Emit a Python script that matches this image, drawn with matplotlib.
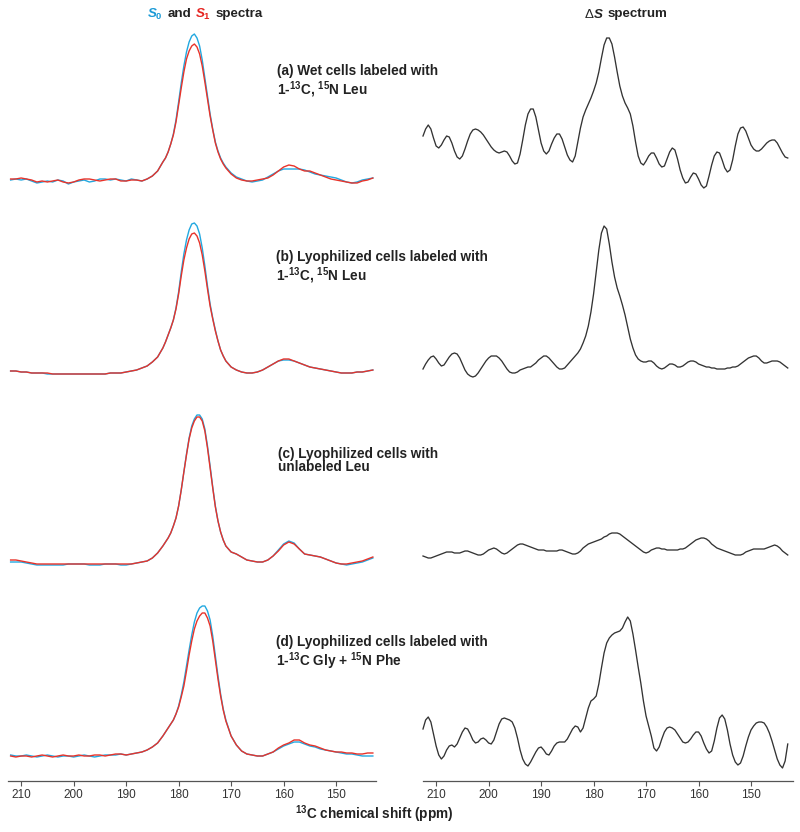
"""
13C spectra: S0 / S1 overlays and the difference spectrum, four samples
"""

import numpy as np
import matplotlib
matplotlib.use("Agg")
import matplotlib.pyplot as plt
from matplotlib.offsetbox import TextArea, HPacker, AnnotationBbox

plt.rcParams["font.family"] = ["Liberation Sans", "DejaVu Sans"]
plt.rcParams["mathtext.fontset"] = "custom"
plt.rcParams["mathtext.rm"] = "Liberation Sans:bold"
plt.rcParams["mathtext.it"] = "Liberation Sans:italic:bold"
plt.rcParams["mathtext.bf"] = "Liberation Sans:bold"

# ----------------------------------------------------
# Data (intensities, arbitrary units)
# ----------------------------------------------------

# S0 / S1 spectra: 1 ppm steps, 0.5 ppm steps across the main peak
ppm_left = np.concatenate([np.arange(212, 182.9, -1),
                           np.arange(182.5, 170.9, -0.5),
                           np.arange(170, 142.9, -1)])

a_s0 = [0, 1, 0, 1, -1, -3, -2, -1, -2, 0,
        -1, -4, -2, -1, 0, -2, -1, 1, 1, 0,
        1, 0, -1, 1, 0, -1, 1, 4, 9, 18,
        22, 28, 36, 46, 60, 78, 97, 114, 128, 138, 144, 146,
        142, 134, 120, 102, 84, 66, 51, 38, 29, 22, 17, 13,
        7, 3, 1, -1, -2, -1, 0, 3,
        6, 9, 11, 11, 11, 11, 10, 8, 6, 5,
        4, 3, 2, 0, -2, -3, -2, 0, 1, 2]
a_s1 = [1, 1, 2, 1, 0, -2, -1, -2, -1, 0,
        -2, -3, -2, 0, 1, 1, 0, -1, 0, 1,
        1, -1, -1, 0, 0, -1, 1, 4, 9, 18,
        22, 28, 36, 45, 58, 75, 92, 108, 121, 129, 134, 136,
        133, 126, 114, 98, 81, 64, 50, 37, 28, 21, 16, 12,
        6, 2, 0, -1, -1, 0, 1, 2,
        5, 9, 13, 15, 14, 11, 9, 9, 7, 5,
        3, 1, 0, -1, -2, -3, -3, -1, 0, 2]

b_s0 = [1, 1, 0, 0, -1, -1, -1, -2, -2, -2,
        -2, -2, -2, -2, -2, -2, -2, -2, -2, -1,
        -1, -1, 0, 1, 2, 4, 6, 10, 15, 24,
        30, 37, 44, 52, 64, 80, 100, 118, 132, 142, 148, 149,
        146, 138, 124, 106, 86, 68, 54, 42, 31, 22, 16, 11,
        5, 2, 0, -1, -1, 0, 2, 5,
        8, 11, 12, 12, 11, 9, 7, 5, 4, 3,
        2, 1, 0, -1, -1, -1, 0, 0, 1, 2]
b_s1 = [1, 1, 0, 0, -1, -1, -1, -1, -2, -2,
        -2, -2, -2, -2, -2, -2, -2, -2, -2, -1,
        -1, -1, 0, 1, 2, 4, 6, 10, 15, 24,
        30, 37, 44, 52, 63, 78, 96, 112, 124, 133, 138, 139,
        136, 129, 117, 101, 83, 66, 53, 41, 31, 22, 16, 11,
        5, 2, 0, -1, -1, 0, 2, 5,
        8, 11, 13, 13, 11, 9, 7, 5, 4, 3,
        2, 1, 0, -1, -1, -1, 0, 0, 1, 2]

c_s0 = [2, 2, 2, 1, 0, -1, -1, -1, -1, -1,
        -1, 0, 0, 0, 0, -1, -1, -1, 0, 0,
        0, -1, -1, 0, 1, 2, 3, 6, 11, 18,
        22, 26, 31, 38, 46, 58, 74, 92, 110, 126, 138, 145,
        149, 149, 145, 135, 118, 98, 77, 58, 43, 32, 24, 18,
        12, 10, 7, 4, 3, 2, 2, 4,
        8, 14, 20, 23, 21, 15, 10, 9, 8, 7,
        5, 3, 1, 0, -1, 0, 1, 2, 4, 6]
c_s1 = [4, 4, 3, 2, 1, 0, 0, 0, 0, 0,
        0, 0, 0, 0, 0, 0, 0, 0, 0, 0,
        0, 0, 0, 0, 1, 2, 3, 6, 11, 18,
        22, 26, 31, 38, 46, 58, 74, 92, 109, 125, 136, 143,
        147, 147, 143, 133, 116, 96, 76, 57, 43, 32, 24, 18,
        12, 10, 7, 4, 3, 2, 2, 4,
        8, 13, 19, 22, 20, 15, 10, 9, 8, 7,
        5, 3, 1, 0, 0, 1, 2, 3, 5, 7]

d_s0 = [1, 0, 0, 1, 0, -1, 0, 1, 0, -1,
        0, 0, -1, 0, 1, 0, -1, 0, 1, 1,
        1, 2, 1, 2, 3, 4, 6, 9, 13, 20,
        24, 28, 32, 36, 42, 50, 61, 74, 90, 106, 121, 134,
        143, 148, 150, 150, 145, 136, 120, 100, 80, 62, 47, 36,
        20, 11, 5, 2, 1, 0, 0, 2,
        4, 7, 10, 12, 14, 14, 12, 10, 9, 7,
        6, 5, 4, 3, 2, 2, 1, 0, 0, 0]
d_s1 = [0, -1, 0, 0, -1, 0, 1, 0, -1, 0,
        1, 0, 0, 1, 0, 0, 1, 1, 0, 1,
        2, 2, 1, 2, 3, 4, 6, 9, 13, 20,
        24, 28, 32, 36, 42, 49, 59, 70, 85, 101, 115, 127,
        135, 140, 143, 143, 138, 130, 115, 96, 77, 60, 46, 35,
        20, 11, 5, 2, 1, 0, 0, 2,
        4, 8, 11, 13, 16, 16, 13, 11, 10, 8,
        6, 5, 4, 4, 3, 3, 2, 2, 3, 3]

# Difference spectra sampled every 0.5 ppm, 212.5 -> 143.0
ppm_right = np.arange(212.5, 142.9, -0.5)

a_ds = [44, 51, 55, 51, 42, 34, 32, 35, 40, 44,
        43, 37, 29, 23, 21, 24, 31, 39, 46, 50,
        51, 50, 48, 45, 41, 37, 33, 30, 28, 27,
        28, 29, 28, 24, 19, 16, 17, 26, 40, 55,
        66, 71, 71, 63, 50, 37, 29, 26, 29, 36,
        42, 46, 46, 41, 33, 25, 20, 18, 24, 38,
        52, 63, 70, 76, 82, 89, 97, 108, 122, 135,
        142, 142, 136, 123, 108, 94, 84, 77, 72, 66,
        54, 38, 24, 17, 15, 19, 24, 27, 27, 22,
        16, 13, 14, 21, 28, 32, 30, 21, 10, 2,
        -3, -2, 3, 7, 6, 1, -5, -8, -6, 4,
        15, 24, 28, 27, 20, 12, 8, 10, 20, 34,
        46, 52, 53, 49, 42, 35, 31, 29, 29, 31,
        34, 37, 39, 40, 40, 37, 32, 27, 23, 22]

b_ds = [3, 8, 12, 15, 16, 13, 9, 6, 7, 11,
        15, 18, 19, 18, 14, 8, 2, -2, -4, -5,
        -4, -1, 3, 7, 11, 14, 16, 16, 16, 14,
        11, 7, 3, 0, -1, -1, 0, 2, 3, 4,
        5, 5, 7, 9, 12, 14, 16, 16, 14, 11,
        8, 5, 3, 3, 4, 7, 10, 13, 16, 19,
        23, 29, 36, 46, 60, 78, 100, 122, 139, 146,
        143, 128, 110, 95, 84, 76, 67, 57, 45, 33,
        24, 17, 13, 11, 10, 10, 11, 11, 9, 6,
        4, 3, 4, 6, 8, 8, 7, 5, 5, 6,
        8, 10, 11, 11, 10, 8, 7, 6, 5, 5,
        4, 4, 3, 3, 3, 3, 4, 4, 5, 5,
        6, 8, 10, 12, 14, 15, 16, 16, 14, 11,
        9, 9, 10, 11, 11, 11, 10, 8, 6, 4]

c_ds = [8, 7, 6, 6, 7, 8, 9, 10, 11, 12,
        12, 12, 11, 11, 11, 12, 13, 13, 12, 11,
        10, 9, 9, 10, 12, 14, 15, 16, 15, 13,
        11, 10, 11, 13, 15, 17, 19, 20, 20, 19,
        18, 17, 16, 15, 14, 14, 14, 13, 13, 13,
        13, 13, 14, 14, 13, 12, 11, 10, 10, 11,
        13, 16, 18, 20, 21, 22, 23, 24, 25, 27,
        28, 30, 31, 31, 31, 30, 28, 26, 24, 22,
        20, 18, 16, 14, 12, 11, 12, 14, 15, 16,
        16, 15, 15, 14, 14, 14, 14, 14, 15, 15,
        16, 18, 20, 22, 24, 25, 26, 26, 25, 23,
        20, 18, 16, 15, 14, 13, 12, 11, 10, 9,
        9, 9, 10, 12, 13, 14, 15, 15, 15, 15,
        15, 16, 17, 18, 19, 18, 16, 13, 11, 9]

d_ds = [27, 36, 39, 34, 22, 10, 1, -3, 0, 6,
        10, 11, 9, 12, 18, 24, 28, 27, 22, 16,
        13, 14, 17, 18, 16, 13, 12, 16, 24, 32,
        37, 38, 37, 36, 34, 28, 18, 6, -3, -8,
        -10, -6, -1, 4, 8, 9, 6, 2, 1, 5,
        10, 13, 14, 14, 14, 17, 22, 27, 30, 29,
        24, 28, 38, 48, 55, 57, 60, 72, 88, 103,
        113, 118, 121, 123, 124, 125, 128, 134, 139, 135,
        122, 106, 89, 73, 55, 40, 30, 20, 8, 5,
        9, 17, 24, 28, 29, 28, 26, 22, 18, 14,
        13, 14, 17, 21, 24, 24, 20, 13, 7, 3,
        5, 15, 28, 38, 41, 37, 26, 12, 1, -6,
        -9, -7, 0, 10, 19, 26, 30, 33, 34, 34,
        33, 29, 23, 15, 6, -3, -9, -12, -5, 12]

labels = [
    ("(a) Wet cells labeled with", r"1-$^{13}$C, $^{15}$N Leu"),
    ("(b) Lyophilized cells labeled with", r"1-$^{13}$C, $^{15}$N Leu"),
    ("(c) Lyophilized cells with", "unlabeled Leu"),
    ("(d) Lyophilized cells labeled with", r"1-$^{13}$C Gly + $^{15}$N Phe"),
]

s0_rows = [a_s0, b_s0, c_s0, d_s0]
s1_rows = [a_s1, b_s1, c_s1, d_s1]
ds_rows = [a_ds, b_ds, c_ds, d_ds]

ticks = [210, 200, 190, 180, 170, 160, 150]

# ----------------------------------------------------
# Layout
# ----------------------------------------------------

W, H = 800, 832
BLUE = "#22A8E0"
RED = "#E8332A"
DARK = "#333333"
TXT = "#222222"

offsets = [601, 409, 217, 25]          # stacking of the four rows
label_y = [(75, 94), (261, 281), (458, 471), (646, 666)]
label_x = [277, 276, 278, 276]

fig = plt.figure(figsize=(W / 100, H / 100), dpi=100)

ax_l = fig.add_axes([8 / W, 1 - 781 / H, 368 / W, 781 / H])
ax_r = fig.add_axes([423 / W, 1 - 781 / H, 370 / W, 781 / H])

for ax, xlim in ((ax_l, (212.5, 142.4)), (ax_r, (212.5, 142.0))):
    ax.set_xlim(*xlim)
    ax.set_ylim(0, 781)
    ax.patch.set_alpha(0)
    for side in ("left", "right", "top"):
        ax.spines[side].set_visible(False)
    ax.spines["bottom"].set_color("#555555")
    ax.spines["bottom"].set_linewidth(0.9)
    ax.set_yticks([])
    ax.set_xticks(ticks)
    ax.tick_params(axis="x", direction="out", length=3.5, width=0.8,
                   color="#555555", labelsize=8.5, labelcolor="#333333",
                   pad=2)

# ----------------------------------------------------
# Curves
# ----------------------------------------------------

for i in range(4):
    off = offsets[i]
    ax_l.plot(ppm_left, np.array(s0_rows[i]) + off, color=BLUE, lw=1.0,
              clip_on=False)
    ax_l.plot(ppm_left, np.array(s1_rows[i]) + off, color=RED, lw=1.0,
              clip_on=False)
    ax_r.plot(ppm_right, np.array(ds_rows[i]) + off, color=DARK, lw=0.95,
              clip_on=False)

    line1, line2 = labels[i]
    y1, y2 = label_y[i]
    fig.text(label_x[i] / W, 1 - y1 / H, line1, fontsize=9.8,
             fontweight="bold", color=TXT, va="baseline")
    fig.text(label_x[i] / W, 1 - y2 / H, line2, fontsize=9.8,
             fontweight="bold", color=TXT, va="baseline")

# ----------------------------------------------------
# Titles and axis label
# ----------------------------------------------------

def text_box(txt, color=TXT, weight="bold"):
    return TextArea(txt, textprops=dict(color=color, fontsize=9.6,
                                        fontweight=weight))


def place(box, x, y):
    ab = AnnotationBbox(box, (x / W, 1 - y / H), xycoords="figure fraction",
                        frameon=False, box_alignment=(0.5, 0.5), pad=0)
    fig.add_artist(ab)


left_title = HPacker(children=[text_box("$S_0$", "#1B9AD6"), text_box("and"),
                               text_box("$S_1$", "#E52421"),
                               text_box("spectra")],
                     align="baseline", pad=0, sep=3)
place(left_title, 205, 14)

delta_s = HPacker(children=[text_box("\u0394", weight="normal"),
                            text_box("$S$")],
                  align="baseline", pad=0, sep=0)
right_title = HPacker(children=[delta_s, text_box("spectrum")],
                      align="baseline", pad=0, sep=3)
place(right_title, 626, 14)

fig.text(374 / W, 1 - 814 / H, r"$^{13}$C chemical shift (ppm)",
         fontsize=9.8, fontweight="bold", color=TXT,
         ha="center", va="center")

fig.savefig("out.png", dpi=100)
plt.close(fig)
